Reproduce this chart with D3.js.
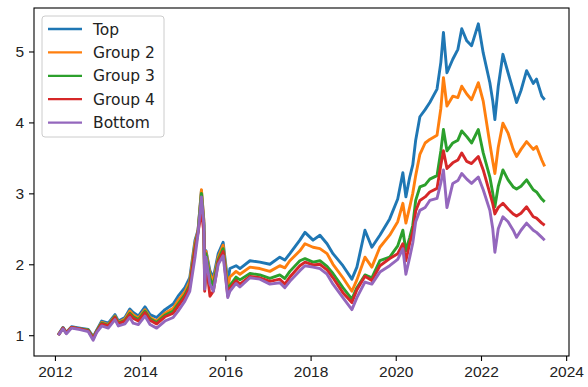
<!DOCTYPE html>
<html>
<head>
<meta charset="utf-8">
<script src="https://cdn.jsdelivr.net/npm/d3@7"></script>
<style>
  html, body { margin: 0; padding: 0; background: #fff; }
  svg { display: block; font-family: "DejaVu Sans", sans-serif; }
</style>
</head>
<body>
<svg id="chart"></svg>
<script>
const dates = [
  "2012-01-30","2012-03-10","2012-04-08","2012-05-22","2012-08-03","2012-10-13","2012-11-24","2012-12-24","2013-02-05","2013-04-02",
  "2013-05-30","2013-06-28","2013-08-23","2013-10-04","2013-11-02","2013-12-16","2014-02-11","2014-03-26","2014-05-22","2014-08-01",
  "2014-10-11","2014-11-22","2015-01-19","2015-03-02","2015-04-16","2015-05-12","2015-06-10","2015-07-01","2015-07-08","2015-07-19",
  "2015-08-22","2015-09-20","2015-11-01","2015-12-13","2016-01-22","2016-02-09","2016-04-02","2016-05-05","2016-07-30","2016-10-23",
  "2017-01-17","2017-04-12","2017-05-25","2017-07-07","2017-10-01","2017-11-14","2018-01-22","2018-03-22","2018-05-22","2018-07-12",
  "2018-10-05","2018-12-21","2019-02-02","2019-04-12","2019-06-10","2019-08-18","2019-11-10","2020-01-18","2020-03-02","2020-03-28",
  "2020-04-30","2020-05-26","2020-06-20","2020-07-26","2020-09-09","2020-10-19","2020-12-20","2021-01-22","2021-02-13","2021-03-15",
  "2021-05-04","2021-06-17","2021-07-20","2021-09-01","2021-10-12","2021-12-09","2022-01-20","2022-03-18","2022-04-12","2022-04-30",
  "2022-05-29","2022-07-08","2022-08-21","2022-10-04","2022-11-02","2022-12-10","2023-01-27","2023-03-25","2023-04-22","2023-06-06",
  "2023-07-01"
];

const top_ = [
  1.01,1.11,1.04,1.12,1.10,1.08,0.98,1.07,1.20,1.17,
  1.29,1.20,1.25,1.37,1.32,1.27,1.40,1.29,1.25,1.36,
  1.44,1.55,1.67,1.81,2.34,2.48,3.04,2.60,1.70,2.19,
  1.91,1.81,2.15,2.31,1.75,1.94,1.98,1.94,2.05,2.03,
  2.00,2.10,2.06,2.15,2.34,2.45,2.34,2.41,2.29,2.15,
  1.98,1.79,1.96,2.48,2.24,2.41,2.64,2.92,3.29,2.95,
  3.23,3.40,3.75,4.08,4.18,4.28,4.47,4.85,5.27,4.70,
  4.89,5.03,5.32,5.15,5.08,5.39,4.98,4.56,4.30,4.04,
  4.51,4.96,4.70,4.45,4.28,4.45,4.73,4.55,4.61,4.37,
  4.32
];
const group2 = [
  1.01,1.10,1.04,1.11,1.09,1.07,0.97,1.06,1.18,1.15,
  1.27,1.18,1.23,1.34,1.29,1.24,1.36,1.25,1.20,1.31,
  1.38,1.49,1.61,1.76,2.30,2.47,3.05,2.62,1.68,2.18,
  1.86,1.76,2.10,2.27,1.68,1.82,1.90,1.86,1.96,1.94,
  1.90,1.98,1.95,2.05,2.19,2.29,2.24,2.22,2.15,2.00,
  1.81,1.62,1.78,2.10,1.96,2.24,2.41,2.60,2.86,2.58,
  2.81,3.00,3.25,3.55,3.71,3.76,3.82,4.20,4.63,4.23,
  4.37,4.35,4.51,4.40,4.32,4.56,4.30,3.70,3.45,3.28,
  3.65,3.99,3.85,3.62,3.52,3.62,3.73,3.62,3.66,3.47,
  3.38
];
const group3 = [
  1.00,1.10,1.03,1.11,1.09,1.07,0.96,1.06,1.17,1.14,
  1.26,1.17,1.21,1.31,1.26,1.22,1.34,1.23,1.18,1.28,
  1.34,1.44,1.57,1.71,2.24,2.46,3.00,2.55,1.66,2.15,
  1.80,1.70,2.06,2.22,1.60,1.70,1.82,1.78,1.87,1.85,
  1.80,1.85,1.80,1.90,2.05,2.08,2.03,2.05,1.97,1.87,
  1.67,1.51,1.67,1.85,1.81,2.05,2.10,2.26,2.48,2.19,
  2.38,2.55,2.90,3.09,3.12,3.20,3.25,3.60,3.90,3.60,
  3.71,3.75,3.88,3.80,3.71,3.90,3.57,3.23,3.00,2.81,
  3.10,3.33,3.19,3.09,3.06,3.10,3.19,3.05,3.02,2.92,
  2.88
];
const group4 = [
  1.00,1.10,1.03,1.11,1.09,1.06,0.95,1.05,1.16,1.13,
  1.25,1.16,1.20,1.29,1.24,1.20,1.32,1.21,1.16,1.26,
  1.31,1.41,1.54,1.68,2.20,2.45,2.75,2.45,1.62,2.05,
  1.55,1.62,2.03,2.18,1.55,1.66,1.77,1.72,1.83,1.81,
  1.76,1.79,1.72,1.82,1.98,2.03,1.99,2.00,1.92,1.81,
  1.60,1.46,1.64,1.83,1.77,1.98,2.08,2.15,2.29,2.05,
  2.30,2.45,2.75,2.90,2.95,3.02,3.07,3.40,3.60,3.35,
  3.43,3.47,3.57,3.45,3.42,3.52,3.33,3.00,2.85,2.71,
  2.80,2.86,2.78,2.71,2.68,2.72,2.81,2.67,2.65,2.58,
  2.55
];
const bottom = [
  1.00,1.09,1.02,1.10,1.08,1.05,0.93,1.04,1.13,1.10,
  1.22,1.13,1.16,1.25,1.17,1.15,1.27,1.15,1.10,1.20,
  1.25,1.34,1.48,1.62,2.10,2.43,2.95,2.55,1.65,2.10,
  1.72,1.62,2.00,2.12,1.53,1.62,1.73,1.68,1.81,1.79,
  1.72,1.74,1.67,1.76,1.91,1.98,1.96,1.94,1.86,1.72,
  1.53,1.36,1.53,1.75,1.72,1.89,1.98,2.07,2.22,1.86,
  2.10,2.30,2.60,2.76,2.80,2.90,2.93,3.15,3.33,2.80,
  3.14,3.18,3.28,3.20,3.14,3.23,3.05,2.76,2.50,2.17,
  2.50,2.67,2.60,2.48,2.38,2.48,2.58,2.48,2.45,2.38,
  2.34
];

const seriesNames = ["Top", "Group 2", "Group 3", "Group 4", "Bottom"];
const seriesValues = [top_, group2, group3, group4, bottom];
const colors = ["#1f77b4", "#ff7f0e", "#2ca02c", "#d62728", "#9467bd"];
const xTickYears = [2012, 2014, 2016, 2018, 2020, 2022, 2024];
const yTicks = [1, 2, 3, 4, 5];

const width = 588, height = 387;
const margin = { top: 8, right: 19, bottom: 31, left: 34 };

const parse = d3.timeParse("%Y-%m-%d");
const times = dates.map(parse);

const svg = d3.select("#chart").attr("width", width).attr("height", height);

// matplotlib-like 5% padding around data
const tExt = d3.extent(times);
const tPad = (tExt[1] - tExt[0]) * 0.05;
const allVals = seriesValues.flat();
const vExt = d3.extent(allVals);
const vPad = (vExt[1] - vExt[0]) * 0.05;

const x = d3.scaleTime()
  .domain([new Date(+tExt[0] - tPad), new Date(+tExt[1] + tPad)])
  .range([margin.left, width - margin.right]);
const y = d3.scaleLinear()
  .domain([vExt[0] - vPad, vExt[1] + vPad])
  .range([height - margin.bottom, margin.top]);

const line = d3.line()
  .x((d, i) => x(times[i]))
  .y(d => y(d));

const plot = svg.append("g");
plot.append("clipPath").attr("id", "clip")
  .append("rect")
  .attr("x", margin.left).attr("y", margin.top)
  .attr("width", width - margin.left - margin.right)
  .attr("height", height - margin.top - margin.bottom);

plot.append("g").attr("clip-path", "url(#clip)")
  .selectAll("path")
  .data(seriesValues)
  .enter()
  .append("path")
  .attr("d", line)
  .attr("fill", "none")
  .attr("stroke", (_, i) => colors[i])
  .attr("stroke-width", 2.9)
  .attr("stroke-linejoin", "round");

// axes
const xAxis = d3.axisBottom(x)
  .tickValues(xTickYears.map(yr => new Date(yr, 0, 1)))
  .tickFormat(d3.timeFormat("%Y"))
  .tickSize(5).tickPadding(5);
const yAxis = d3.axisLeft(y)
  .tickValues(yTicks)
  .tickFormat(d3.format("d"))
  .tickSize(5).tickPadding(5);

const gx = svg.append("g")
  .attr("transform", `translate(0,${height - margin.bottom})`)
  .call(xAxis);
const gy = svg.append("g")
  .attr("transform", `translate(${margin.left},0)`)
  .call(yAxis);

[gx, gy].forEach(g => {
  g.select(".domain").remove();
  g.selectAll(".tick line").attr("stroke", "#000").attr("stroke-width", 1.1);
  g.selectAll(".tick text").attr("fill", "#222").style("font-size", "15.5px");
});

// frame
svg.append("rect")
  .attr("x", margin.left).attr("y", margin.top)
  .attr("width", width - margin.left - margin.right)
  .attr("height", height - margin.top - margin.bottom)
  .attr("fill", "none")
  .attr("stroke", "#000")
  .attr("stroke-width", 1.1);

// legend
const legend = svg.append("g").attr("transform", "translate(42,16)");
legend.append("rect")
  .attr("width", 122).attr("height", 121)
  .attr("rx", 3)
  .attr("fill", "#fff").attr("fill-opacity", 0.8)
  .attr("stroke", "#cccccc").attr("stroke-width", 1);

const items = legend.selectAll("g.item")
  .data(seriesNames)
  .enter()
  .append("g")
  .attr("class", "item")
  .attr("transform", (_, i) => `translate(0,${13 + i * 23.4})`);

items.append("line")
  .attr("x1", 6).attr("x2", 40)
  .attr("stroke", (_, i) => colors[i])
  .attr("stroke-width", 2.3);
items.append("text")
  .attr("x", 51)
  .attr("dy", "0.36em")
  .attr("fill", "#222")
  .style("font-size", "15.5px")
  .text(d => d);
</script>
</body>
</html>
